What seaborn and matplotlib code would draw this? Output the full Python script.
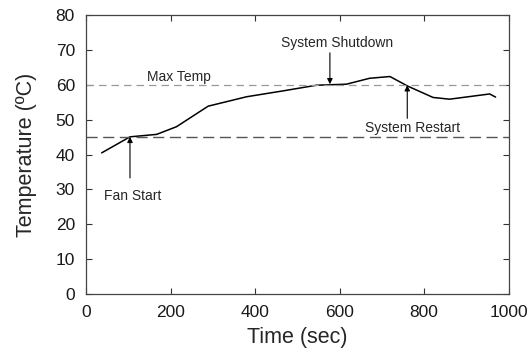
import matplotlib
matplotlib.use("Agg")
import matplotlib.pyplot as plt
import seaborn as sns
import pandas as pd

# temperature trace
time_sec = [37, 104, 167, 214, 289, 380, 467, 545, 616, 671, 719, 762, 821, 860, 955, 969]
temp_c = [40.5, 45.1, 45.8, 48.0, 53.9, 56.6, 58.3, 59.9, 60.2, 61.9, 62.4, 59.6, 56.4, 55.9, 57.4, 56.5]

max_temp = 60
fan_temp = 45

sns.set_theme(style="white")
plt.rcParams['font.family'] = ['Liberation Sans', 'DejaVu Sans']

df = pd.DataFrame({'Time (sec)': time_sec, 'Temperature': temp_c})

fig, ax = plt.subplots(figsize=(5.31, 3.53), dpi=100)
fig.subplots_adjust(left=0.162, right=0.958, top=0.957, bottom=0.167)

sns.lineplot(data=df, x='Time (sec)', y='Temperature', color='black', lw=1.1, ax=ax)

ax.axhline(max_temp, color='#999999', lw=0.9, dashes=(6, 4))
ax.axhline(fan_temp, color='#555555', lw=1.0, dashes=(8, 4))

ax.set_xlim(0, 1000)
ax.set_ylim(0, 80)
ax.set_xticks(range(0, 1001, 200))
ax.set_yticks(range(0, 81, 10))
ax.set_xlabel("Time (sec)", fontsize=15.5, labelpad=5)
ax.set_ylabel("Temperature (ºC)", fontsize=15.5, labelpad=13)
ax.tick_params(direction='in', length=4, width=0.8, labelsize=12.5, pad=8,
               top=True, right=True, bottom=True, left=True, colors='#333333')
for lab in ax.get_xticklabels() + ax.get_yticklabels():
    lab.set_color('#1a1a1a')
for sp in ax.spines.values():
    sp.set_color('#444444')
    sp.set_linewidth(0.9)

arrow = dict(arrowstyle='-|>', color='black', lw=0.8, mutation_scale=8, shrinkA=0, shrinkB=0)
ax.text(144, 62.2, "Max Temp", fontsize=10, va='center', ha='left')
ax.annotate("", xy=(577, 60.2), xytext=(577, 69.2), arrowprops=arrow)
ax.text(593, 72, "System Shutdown", fontsize=10, ha='center', va='center')
ax.annotate("", xy=(760, 59.9), xytext=(760, 50.4), arrowprops=arrow)
ax.text(773, 47.7, "System Restart", fontsize=10, ha='center', va='center')
ax.annotate("", xy=(104, 45.1), xytext=(104, 33.3), arrowprops=arrow)
ax.text(111, 28.2, "Fan Start", fontsize=10, ha='center', va='center')

fig.savefig("out.png", dpi=100)
